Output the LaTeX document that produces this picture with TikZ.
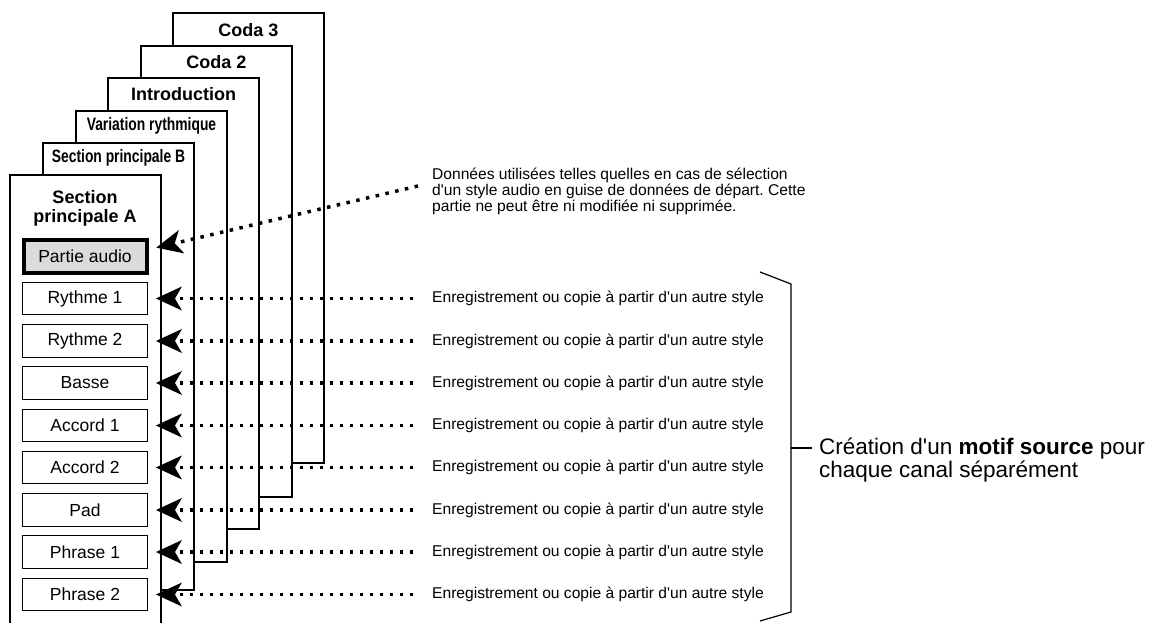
\documentclass[tikz,border=0pt]{standalone}
\usepackage{fontspec}
\setmainfont{Liberation Sans}
\usepackage{graphicx}
\usetikzlibrary{arrows.meta}
\frenchspacing
\definecolor{audiogray}{gray}{0.86}
\newcommand{\notesize}{\fontsize{15.6}{16}\selectfont}
\newcommand{\narrowhead}[1]{\scalebox{0.77}[1]{#1}}
\newcommand{\copyNote}{Enregistrement ou copie à partir d\textquotesingle un autre style}
\tikzset{
  frame/.style={draw=black, line width=2.8pt, fill=white},
  head/.style={inner sep=0pt, font=\fontsize{18}{19}\selectfont\bfseries, align=center},
  part/.style={draw=black, line width=1.4pt, fill=white, minimum width=124.5pt,
    minimum height=32.5pt, inner sep=0pt, font=\fontsize{17.5}{18}\selectfont},
  note/.style={anchor=west, inner sep=0pt, font=\notesize},
  dotline/.style={line width=3.5pt, dash pattern=on 3.5pt off 6.5pt,
    -{Stealth[length=26pt,width=24pt,inset=7pt,line width=0pt]},
    shorten >=8pt, shorten <=19pt},
}

\begin{document}
\begin{tikzpicture}[x=1pt,y=-1pt]
        \useasboundingbox (0,0) rectangle (1157,623);
        % stack of sections, back to front
        \draw [frame] (173,13) rectangle (324,463);
        \draw [frame] (141,46) rectangle (292,497);
        \draw [frame] (108,78) rectangle (259,529);
        \draw [frame] (76,111) rectangle (227,562);
        \draw [frame] (43,143) rectangle (194,590);
        \draw [frame] (10,626) |- (161,175) -- (161,626);
        \node [head] (coda3) at (248.5,30) {Coda 3};
        \node [head] (coda2) at (216.5,62) {Coda 2};
        \node [head] (intro) at (183.5,94) {Introduction};
        \node [head] (varRythm) at (151.5,126) {\narrowhead{Variation rythmique}};
        \node [head] (mainB) at (118.5,158) {\narrowhead{Section principale B}};
        \node [head] (mainA) at (85,208.5) {Section\\principale A};
        % channels of section A
        \node [part, line width=4pt, fill=audiogray, minimum width=123pt, minimum height=33pt] (partie) at (85,256.5) {Partie audio};
        \node [part] (rythme1) at (85,298.5) {Rythme 1};
        \node [part] (rythme2) at (85,341) {Rythme 2};
        \node [part] (basse) at (85,383) {Basse};
        \node [part] (accord1) at (85,425.5) {Accord 1};
        \node [part] (accord2) at (85,467.5) {Accord 2};
        \node [part] (pad) at (85,510) {Pad};
        \node [part] (phrase1) at (85,552) {Phrase 1};
        \node [part] (phrase2) at (85,594.5) {Phrase 2};
        % notes
        \node [note, align=left] (noteAudio) at (432,191) {Données utilisées telles quelles en cas de sélection\\d\textquotesingle un style audio en guise de données de départ. Cette\\partie ne peut être ni modifiée ni supprimée.};
        \node [note] (noteR1) at (432,298.5) {\copyNote};
        \node [note] (noteR2) at (432,341) {\copyNote};
        \node [note] (noteBa) at (432,383) {\copyNote};
        \node [note] (noteA1) at (432,425.5) {\copyNote};
        \node [note] (noteA2) at (432,467.5) {\copyNote};
        \node [note] (notePad) at (432,510) {\copyNote};
        \node [note] (noteP1) at (432,552) {\copyNote};
        \node [note] (noteP2) at (432,594.5) {\copyNote};
        % dotted arrows
        \coordinate (audioSrc) at (418,186);
        \draw [dotline, shorten <=0pt] (audioSrc) -- ([yshift=7pt]partie.east);
        \draw [dotline] (noteR1.west) -- (rythme1.east);
        \draw [dotline] (noteR2.west) -- (rythme2.east);
        \draw [dotline] (noteBa.west) -- (basse.east);
        \draw [dotline] (noteA1.west) -- (accord1.east);
        \draw [dotline] (noteA2.west) -- (accord2.east);
        \draw [dotline] (notePad.west) -- (pad.east);
        \draw [dotline] (noteP1.west) -- (phrase1.east);
        \draw [dotline] (noteP2.west) -- (phrase2.east);
        % bracket
        \draw [line width=1.2pt] (760,272) -- (791,284) -- (791,612) -- (760,621);
        \node [anchor=west, inner sep=0pt, align=left, font=\fontsize{22.5}{23}\selectfont] (motif) at (819,460.5) {Création d\textquotesingle un \textbf{motif source} pour\\chaque canal séparément};
        \coordinate (brMid) at (791,448);
        \draw [line width=1.2pt] (brMid) -- ([xshift=-7pt]motif.west |- brMid);
      \end{tikzpicture}
\end{document}
